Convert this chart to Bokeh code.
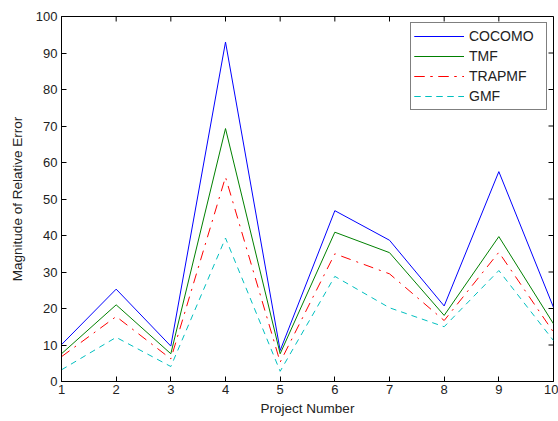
import math
from bokeh.plotting import figure
from bokeh.models import Range1d, FixedTicker, Legend, LegendItem
from bokeh.embed import file_html
from bokeh.resources import INLINE

projects = [1, 2, 3, 4, 5, 6, 7, 8, 9, 10]
cocomo = [10.1, 25.3, 9.7, 93.0, 8.5, 46.8, 38.7, 20.7, 57.5, 20.3]
tmf = [7.6, 21.0, 7.6, 69.3, 7.6, 40.9, 35.3, 18.1, 39.7, 15.8]
trapmf = [6.8, 17.8, 6.2, 56.0, 5.3, 35.0, 29.5, 16.7, 35.4, 13.5]
gmf = [3.2, 12.1, 4.1, 39.3, 2.8, 28.8, 20.2, 15.0, 30.4, 11.2]
x_ticks = [1, 2, 3, 4, 5, 6, 7, 8, 9, 10]
y_ticks = [0, 10, 20, 30, 40, 50, 60, 70, 80, 90, 100]

FONT = "Liberation Sans"

p = figure(width=558, height=421, output_backend="svg", toolbar_location=None,
           x_range=Range1d(x_ticks[0], x_ticks[-1]), y_range=Range1d(y_ticks[0], y_ticks[-1]),
           min_border_left=61, min_border_right=5, min_border_top=16, min_border_bottom=40)
p.xgrid.visible = False
p.ygrid.visible = False
p.outline_line_color = "black"
p.outline_line_width = 1
p.background_fill_color = "white"
p.border_fill_color = "white"

for ax, ticks in ((p.xaxis[0], x_ticks), (p.yaxis[0], y_ticks)):
    ax.ticker = FixedTicker(ticks=ticks)
    ax.major_tick_in = 5
    ax.major_tick_out = 0
    ax.minor_tick_in = 0
    ax.minor_tick_out = 0
    ax.axis_line_color = "black"
    ax.major_tick_line_color = "black"
    ax.major_label_text_font = FONT
    ax.major_label_text_color = "#222222"
    ax.major_label_text_font_size = "13px"
    ax.axis_label_text_font = FONT
    ax.axis_label_text_font_style = "normal"
    ax.axis_label_text_color = "#222222"
    ax.axis_label_text_font_size = "13.5px"

p.xaxis[0].axis_label = "Project Number"
p.yaxis[0].axis_label = "Magnitude of Relative Error"
p.xaxis[0].major_label_standoff = 3
p.yaxis[0].major_label_standoff = 4
p.xaxis[0].axis_label_standoff = 4
p.yaxis[0].axis_label_standoff = 8

# box ticks on top and right edges (inward)
p.ray(x=x_ticks, y=y_ticks[-1], length=5, length_units="screen", angle=-math.pi / 2,
      line_color="black", line_width=1)
p.ray(x=x_ticks[-1], y=y_ticks, length=5, length_units="screen", angle=math.pi,
      line_color="black", line_width=1)

r1 = p.line(projects, cocomo, line_color="#0000FF", line_width=1)
r2 = p.line(projects, tmf, line_color="#008000", line_width=1)
r3 = p.line(projects, trapmf, line_color="#FF0000", line_width=1, line_dash="10 6 2 6")
r4 = p.line(projects, gmf, line_color="#00BFBF", line_width=1, line_dash="6 5")

legend = Legend(items=[LegendItem(label="COCOMO", renderers=[r1, r1]),
                       LegendItem(label="TMF", renderers=[r2, r2]),
                       LegendItem(label="TRAPMF", renderers=[r3, r3]),
                       LegendItem(label="GMF", renderers=[r4, r4])],
                location="top_right")
legend.margin = 6
legend.padding = 3
legend.spacing = 0
legend.glyph_width = 50
legend.glyph_height = 20
legend.label_height = 20
legend.label_standoff = 5
legend.label_width = 74
legend.label_text_font = FONT
legend.label_text_font_size = "14px"
legend.label_text_color = "#222222"
legend.border_line_color = "black"
legend.border_line_width = 1
legend.background_fill_color = "white"
legend.background_fill_alpha = 1
p.add_layout(legend, "center")

open("out.html", "w").write(file_html(p, INLINE))
